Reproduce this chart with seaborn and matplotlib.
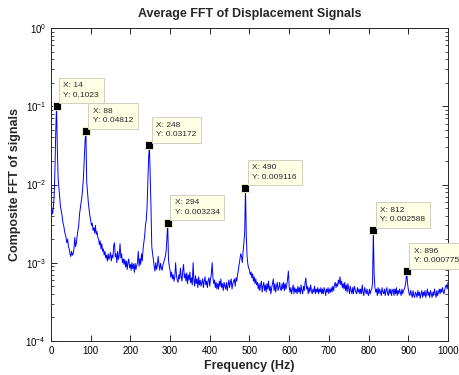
import matplotlib
matplotlib.use("Agg")
import matplotlib.pyplot as plt
import numpy as np
import pandas as pd
import seaborn as sns

# spectrum, 2 Hz bins, values in units of 1e-5
FREQ_STEP = 2
FFT_E5 = [
    800, 480, 420, 500, 700, 1500, 4500, 10230, 3000, 1200,
    900, 700, 520, 460, 400, 330, 300, 260, 230, 210,
    180, 200, 160, 150, 130, 120, 140, 125, 130, 150,
    210, 160, 180, 220, 260, 300, 420, 500, 600, 700,
    900, 1300, 2200, 3600, 4812, 1100, 800, 600, 480, 400,
    350, 300, 320, 260, 280, 240, 300, 230, 250, 210,
    200, 170, 190, 150, 175, 140, 150, 125, 140, 115,
    125, 105, 130, 110, 120, 135, 105, 125, 115, 165,
    180, 120, 130, 100, 140, 110, 125, 175, 115, 130,
    100, 112, 95, 110, 88, 105, 82, 100, 112, 86,
    95, 80, 100, 84, 96, 75, 98, 82, 92, 100,
    140, 90, 112, 95, 130, 105, 150, 180, 220, 300,
    350, 500, 1000, 2200, 3172, 1300, 500, 160, 130, 110,
    90, 78, 100, 82, 92, 120, 95, 80, 98, 86,
    80, 94, 100, 110, 120, 140, 200, 323.4, 110, 90,
    80, 65, 76, 62, 70, 58, 66, 100, 70, 60,
    56, 70, 62, 85, 66, 58, 80, 95, 64, 72,
    58, 74, 54, 70, 60, 76, 55, 64, 52, 100,
    60, 50, 68, 54, 62, 48, 66, 52, 60, 50,
    56, 62, 48, 58, 66, 52, 58, 48, 60, 64,
    50, 62, 72, 100, 64, 54, 60, 48, 56, 46,
    54, 46, 58, 50, 62, 48, 54, 44, 56, 50,
    46, 56, 44, 52, 60, 48, 56, 62, 46, 54,
    58, 62, 50, 64, 58, 70, 80, 95, 110, 130,
    120, 100, 140, 180, 250, 911.6, 220, 120, 95, 85,
    80, 70, 76, 64, 72, 58, 66, 54, 62, 52,
    56, 46, 54, 44, 52, 58, 42, 50, 56, 44,
    52, 42, 54, 46, 58, 44, 50, 40, 48, 54,
    62, 44, 54, 42, 50, 56, 44, 48, 56, 46,
    44, 54, 46, 56, 44, 54, 46, 52, 62, 78,
    50, 42, 48, 40, 46, 52, 40, 48, 42, 46,
    40, 50, 42, 48, 40, 52, 44, 40, 50, 44,
    55, 64, 46, 50, 40, 48, 42, 52, 44, 40,
    46, 42, 50, 40, 46, 42, 48, 40, 46, 42,
    48, 40, 46, 40, 48, 44, 38, 46, 42, 48,
    40, 46, 42, 48, 42, 50, 44, 52, 56, 48,
    54, 50, 60, 54, 66, 52, 58, 48, 54, 46,
    56, 44, 52, 42, 54, 46, 40, 50, 44, 40,
    48, 40, 50, 46, 42, 40, 48, 42, 46, 40,
    46, 40, 52, 42, 38, 48, 44, 40, 46, 40,
    38, 46, 40, 44, 46, 55, 258.8, 70, 48, 42,
    46, 38, 48, 40, 46, 42, 38, 48, 42, 40,
    46, 38, 44, 48, 40, 38, 46, 40, 46, 38,
    44, 46, 38, 46, 40, 48, 38, 44, 40, 46,
    42, 38, 46, 40, 44, 46, 50, 58, 77.5, 55,
    46, 40, 38, 44, 40, 36, 44, 38, 36, 42,
    40, 36, 44, 38, 42, 35, 40, 44, 36, 42,
    38, 44, 36, 40, 46, 38, 42, 36, 44, 40,
    36, 42, 38, 46, 40, 36, 44, 38, 42, 46,
    40, 46, 42, 48, 42, 40, 46, 50, 52, 46,
    56,
]

PEAK_FREQ = [14, 88, 248, 294, 490, 812, 896]
PEAK_VAL = [0.1023, 0.04812, 0.03172, 0.003234, 0.009116, 0.002588, 0.000775]

X_TICKS = [0, 100, 200, 300, 400, 500, 600, 700, 800, 900, 1000]

sns.set_style("ticks")
plt.rcParams["font.family"] = ["Liberation Sans", "DejaVu Sans"]

df = pd.DataFrame({"freq": np.arange(len(FFT_E5)) * FREQ_STEP,
                   "fft": np.array(FFT_E5) * 1e-5})
peaks = pd.DataFrame({"freq": PEAK_FREQ, "fft": PEAK_VAL})

fig = plt.figure(figsize=(4.59, 3.75), dpi=100)
ax = fig.add_axes([0.111, 0.091, 0.865, 0.834])

sns.lineplot(data=df, x="freq", y="fft", color="#0000ff", linewidth=0.7, ax=ax)
sns.scatterplot(data=peaks, x="freq", y="fft", marker="s", color="black",
                edgecolor="#ffffd0", linewidth=0.6, s=26, zorder=5, ax=ax)

for f, v in zip(PEAK_FREQ, PEAK_VAL):
    ax.annotate(f"X: {f}\nY: {v:g}", xy=(f, v), xytext=(5, 5),
                textcoords="offset points", ha="left", va="bottom",
                fontsize=6, linespacing=1.5, annotation_clip=False,
                bbox=dict(boxstyle="square,pad=0.55", fc="#ffffe6",
                          ec="#cfcfbf", lw=0.7), zorder=6)

ax.set_yscale("log")
ax.set_xlim(0, 1000)
ax.set_ylim(1e-4, 1)
ax.set_xticks(X_TICKS)
ax.tick_params(which="both", direction="in", top=True, right=True,
               labelsize=7, colors="black")
ax.tick_params(which="major", length=4, width=0.6)
ax.tick_params(which="minor", length=2, width=0.5)
for s in ax.spines.values():
    s.set_linewidth(0.7)

ax.set_title("Average FFT of Displacement Signals", fontsize=9,
             fontweight="bold", pad=8)
ax.set_xlabel("Frequency (Hz)", fontsize=9, fontweight="bold", labelpad=3)
ax.set_ylabel("Composite FFT of signals", fontsize=9, fontweight="bold",
              labelpad=3)

fig.savefig("out.png", dpi=100)
